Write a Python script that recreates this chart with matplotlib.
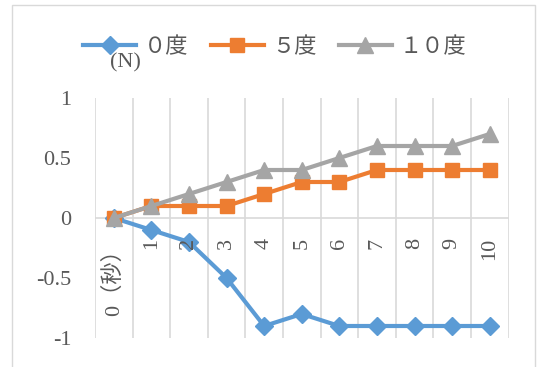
import matplotlib
matplotlib.use("Agg")
import matplotlib.pyplot as plt
from matplotlib.patches import Rectangle
from matplotlib.transforms import offset_copy

plt.rcParams["font.family"] = ["Liberation Serif", "Noto Sans CJK JP", "DejaVu Sans"]

categories = ["0（秒）", "1", "2", "3", "4", "5", "6", "7", "8", "9", "10"]
deg0 = [0, -0.1, -0.2, -0.5, -0.9, -0.8, -0.9, -0.9, -0.9, -0.9, -0.9]
deg5 = [0, 0.1, 0.1, 0.1, 0.2, 0.3, 0.3, 0.4, 0.4, 0.4, 0.4]
deg10 = [0, 0.1, 0.2, 0.3, 0.4, 0.4, 0.5, 0.6, 0.6, 0.6, 0.7]
series_names = ["０度", "５度", "１０度"]
yticks = [-1, -0.5, 0, 0.5, 1]
ytick_labels = ["-1", "-0.5", "0", "0.5", "1"]

text_col = "#595959"
grid_col = "#d9d9d9"
W, H = 537, 367
fs = 16

fig = plt.figure(figsize=(W / 100, H / 100), dpi=100)
# outer chart frame
fig.patches.append(Rectangle((12 / W, -0.01), (535 - 12) / W, 1 - 5 / H + 0.01,
                             transform=fig.transFigure, fill=False,
                             edgecolor=grid_col, linewidth=1))

ax = fig.add_axes([95 / W, (H - 338) / H, (508.5 - 95) / W, 240 / H])
x = list(range(len(categories)))

for i in range(len(categories) + 1):
    ax.axvline(i - 0.5, color=grid_col, linewidth=1.2, zorder=0)
ax.axhline(0, color=grid_col, linewidth=1.2, zorder=0)

lw = 3
ax.plot(x, deg0, color="#5b9bd5", marker="D", markersize=9, linewidth=lw,
        label=series_names[0], zorder=3)
ax.plot(x, deg5, color="#ed7d31", marker="s", markersize=10, linewidth=lw,
        label=series_names[1], zorder=3)
ax.plot(x, deg10, color="#a5a5a5", marker="^", markersize=11, linewidth=lw,
        label=series_names[2], zorder=4)

ax.set_xlim(-0.5, len(categories) - 0.5)
ax.set_ylim(-1, 1)
ax.set_xticks([])
ax.set_yticks(yticks)
ax.set_yticklabels(ytick_labels, color=text_col, fontsize=fs)
ax.tick_params(axis="y", length=0, pad=17)
for s in ax.spines.values():
    s.set_visible(False)

# category labels hang under the zero line, rotated
lab_tr = offset_copy(ax.transData, fig=fig, y=-20, units="dots")
for i, c in enumerate(categories):
    ax.text(i, 0, c, rotation=90, ha="center", va="top",
            color=text_col, fontsize=fs, transform=lab_tr)

fig.text(125 / W, 1 - 63 / H, "(N)", ha="center", va="center",
         color=text_col, fontsize=fs)

fig.legend(loc="center left", bbox_to_anchor=(74 / W, 1 - 48 / H), ncol=3,
           frameon=False, fontsize=fs, handlelength=2.4, columnspacing=1.0,
           handletextpad=0.35, labelcolor=text_col, borderaxespad=0)

fig.savefig("out.png", dpi=100)
